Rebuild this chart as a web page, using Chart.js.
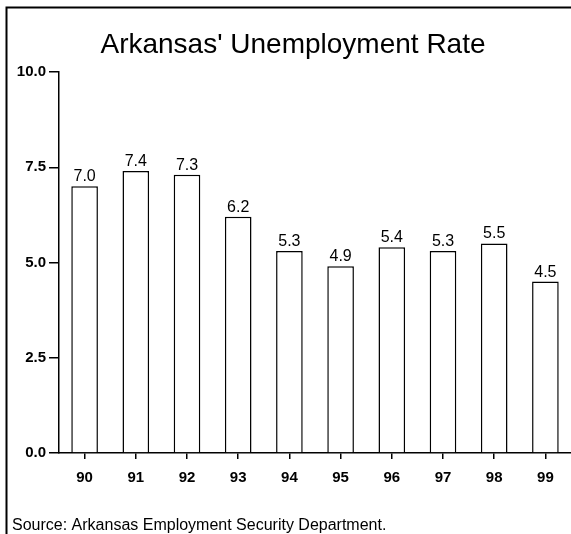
<!DOCTYPE html>
<html>
<head>
<meta charset="utf-8">
<script src="https://cdn.jsdelivr.net/npm/chart.js@4"></script>
<style>
  html, body { margin: 0; padding: 0; background: #fff; }
  #rate-chart { display: block; }
</style>
</head>
<body>
<canvas id="rate-chart" width="571" height="534"></canvas>
<script>
// chart data
var years = ['90', '91', '92', '93', '94', '95', '96', '97', '98', '99'];
var rates = [7.0, 7.4, 7.3, 6.2, 5.3, 4.9, 5.4, 5.3, 5.5, 4.5];
var yTicks = [0, 2.5, 5.0, 7.5, 10.0];

var titleText = "Arkansas' Unemployment Rate";
var sourceText = 'Source: Arkansas Employment Security Department.';
var fontName = '"Liberation Sans", Arial, Helvetica, sans-serif';

// value labels, title, frame and source line
var extras = {
  id: 'extras',
  afterDatasetsDraw: function(chart) {
    var ctx = chart.ctx;
    var meta = chart.getDatasetMeta(0);
    ctx.save();
    ctx.fillStyle = '#000';
    ctx.font = '16px ' + fontName;
    ctx.textAlign = 'center';
    ctx.textBaseline = 'alphabetic';
    meta.data.forEach(function(bar, i) {
      ctx.fillText(rates[i].toFixed(1), bar.x, bar.y - 5);
    });
    ctx.restore();
  },
  afterDraw: function(chart) {
    var ctx = chart.ctx;
    ctx.save();
    // frame
    ctx.strokeStyle = '#000';
    ctx.lineWidth = 2;
    ctx.beginPath();
    ctx.moveTo(6.5, 534);
    ctx.lineTo(6.5, 7.5);
    ctx.lineTo(571, 7.5);
    ctx.stroke();
    // title
    ctx.fillStyle = '#000';
    ctx.textAlign = 'center';
    ctx.textBaseline = 'alphabetic';
    ctx.font = '28px ' + fontName;
    ctx.fillText(titleText, 293, 53);
    // source
    ctx.textAlign = 'left';
    ctx.font = '16px ' + fontName;
    ctx.fillText(sourceText, 12, 530);
    ctx.restore();
  }
};

var ctx = document.getElementById('rate-chart').getContext('2d');
var chart = new Chart(ctx, {
  type: 'bar',
  data: {
    labels: years,
    datasets: [{
      data: rates,
      backgroundColor: '#fff',
      borderColor: '#000',
      borderWidth: 1.5,
      barPercentage: 0.52,
      categoryPercentage: 1.0
    }]
  },
  options: {
    responsive: false,
    animation: false,
    layout: {
      padding: { left: 0, right: 0, top: 72, bottom: 41 }
    },
    plugins: {
      legend: { display: false },
      tooltip: { enabled: false }
    },
    scales: {
      x: {
        afterFit: function(scale) { scale.height = 40; },
        grid: {
          offset: false,
          drawOnChartArea: false,
          drawTicks: true,
          tickLength: 6,
          color: '#000',
          lineWidth: 1.5
        },
        border: { display: true, color: '#000', width: 1.5 },
        ticks: {
          color: '#000',
          padding: 10,
          maxRotation: 0,
          font: { family: fontName, size: 15, weight: 'bold' }
        }
      },
      y: {
        min: 0,
        max: 10,
        afterFit: function(scale) { scale.width = 59; },
        afterBuildTicks: function(scale) {
          scale.ticks = yTicks.map(function(v) { return { value: v }; });
        },
        grid: {
          drawOnChartArea: false,
          drawTicks: true,
          tickLength: 10,
          color: '#000',
          lineWidth: 1.5
        },
        border: { display: true, color: '#000', width: 1.5 },
        ticks: {
          color: '#000',
          padding: 3,
          font: { family: fontName, size: 15, weight: 'bold' },
          callback: function(v) { return Number(v).toFixed(1); }
        }
      }
    }
  },
  plugins: [extras]
});
</script>
</body>
</html>
